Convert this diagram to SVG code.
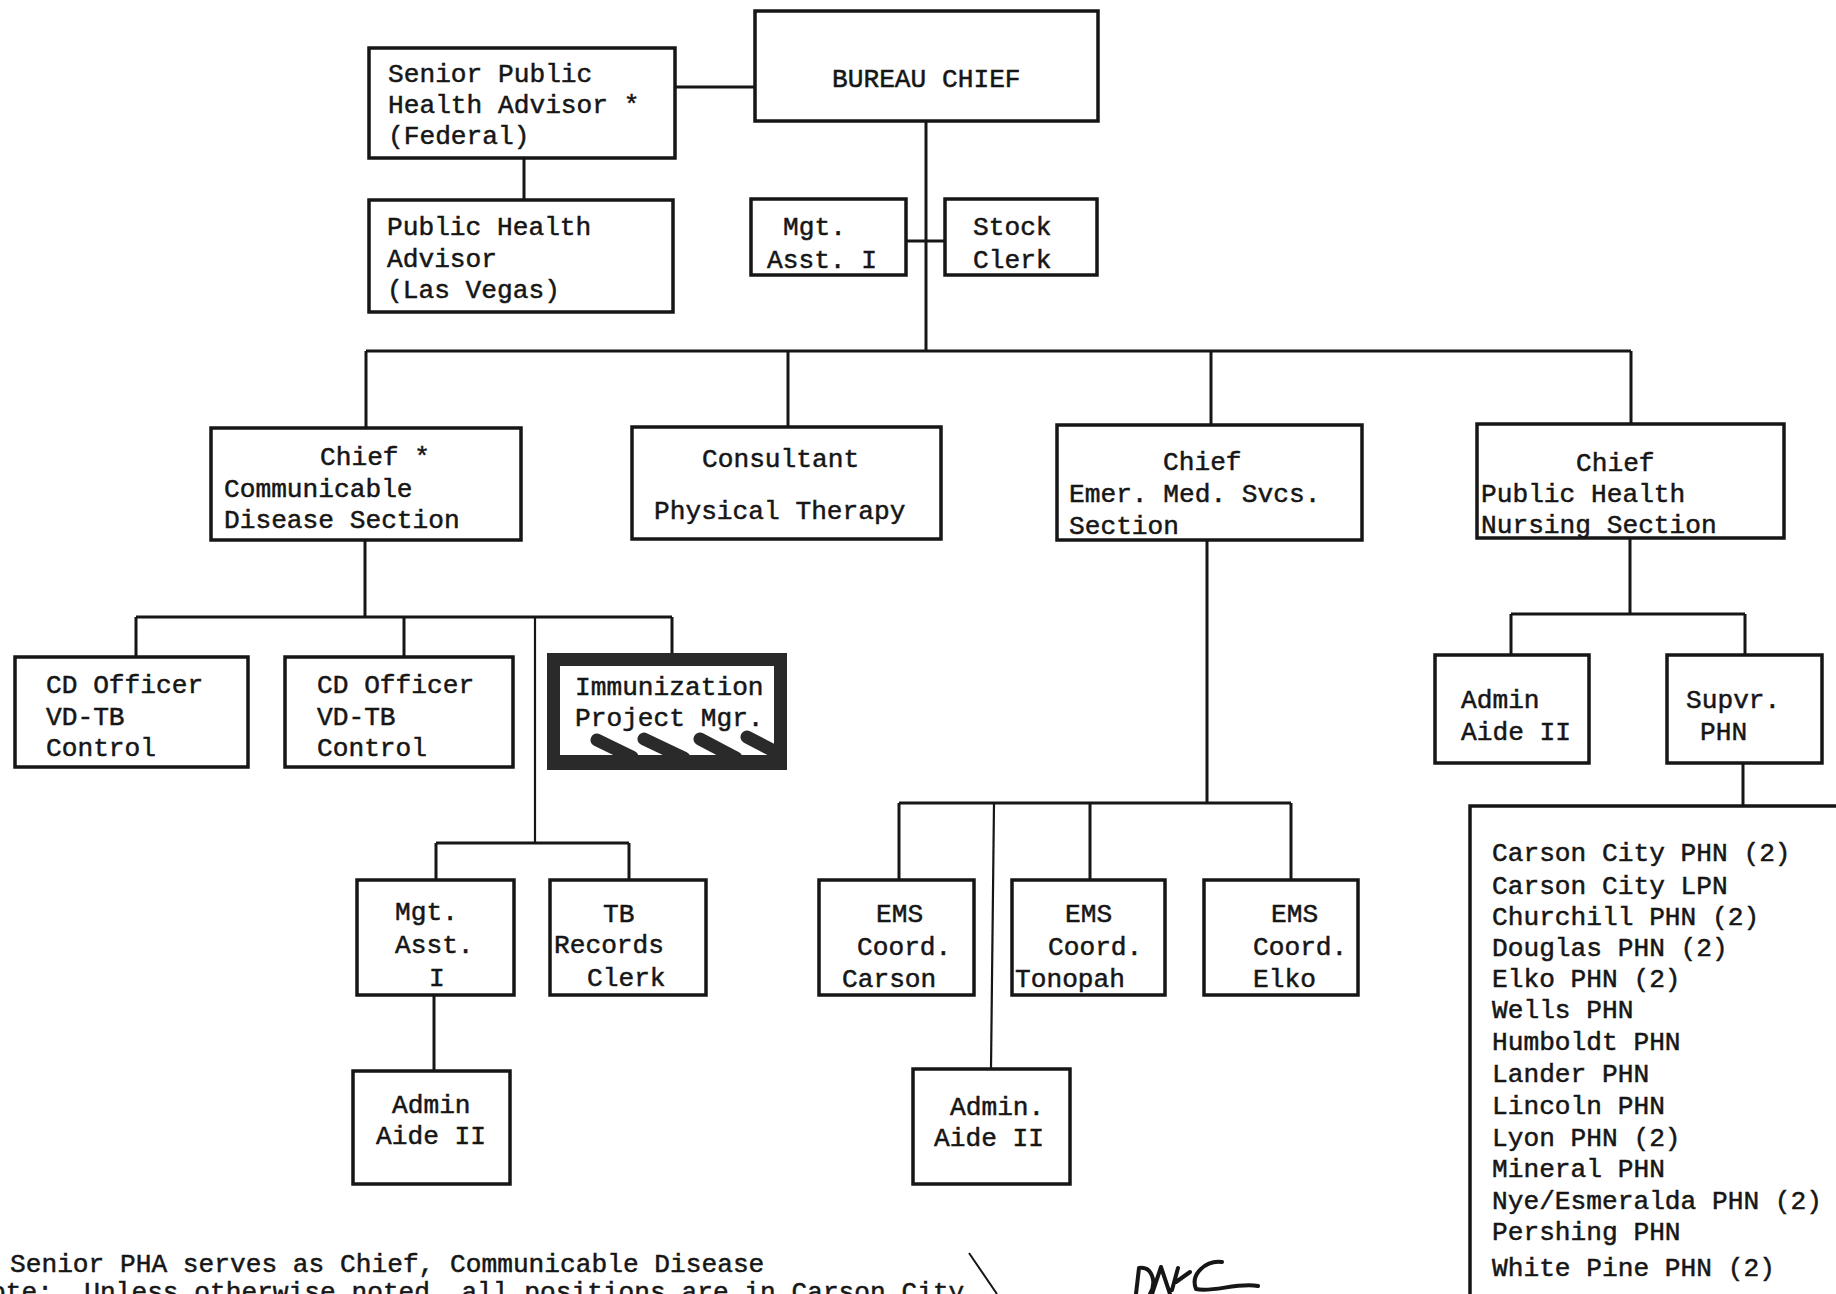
<svg xmlns="http://www.w3.org/2000/svg" width="1836" height="1294" viewBox="0 0 1836 1294">
<style>
.box{fill:#fff;stroke:#161616;stroke-width:3.5}
.t{font-family:"Liberation Mono","DejaVu Sans Mono",monospace;font-size:26.2px;fill:#161616;stroke:#161616;stroke-width:0.5}
.c{fill:none;stroke:#161616;stroke-width:3}
.thin{fill:none;stroke:#161616;stroke-width:2.2}
</style>
<rect x="0" y="0" width="1836" height="1294" fill="#fff"/>
<g id="connectors">
<path class="c" d="M675,87 H755"/>
<path class="c" d="M524,158 V200"/>
<path class="c" d="M926,121 V351"/>
<path class="c" d="M906,241 H945"/>
<path class="c" d="M366,351 H1631"/>
<path class="c" d="M366,351 V428 M788,351 V427 M1211,351 V425 M1631,351 V424"/>
<path class="c" d="M365,540 V617 M136,617 H672 M136,617 V657 M404,617 V657 M672,617 V653"/>
<path class="thin" d="M535,617 V843"/>
<path class="c" d="M436,843 H629 M436,843 V880 M629,843 V880"/>
<path class="c" d="M434,995 V1071"/>
<path class="c" d="M1207,540 V803 M899,803 H1291 M899,803 V880 M1090,803 V880 M1291,803 V880"/>
<path class="thin" d="M994,803 L991,1069"/>
<path class="c" d="M1630,538 V614 M1511,614 H1745 M1511,614 V655 M1745,614 V655 M1743,763 V806"/>
</g>
<g id="bureau-chief"><rect class="box" x="755" y="11" width="343" height="110"/><text class="t" x="832" y="87">BUREAU CHIEF</text></g>
<g id="senior-pha"><rect class="box" x="369" y="48" width="306" height="110"/><text class="t" x="388" y="82">Senior Public</text><text class="t" x="388" y="113">Health Advisor *</text><text class="t" x="388" y="144">(Federal)</text></g>
<g id="pha-las-vegas"><rect class="box" x="369" y="200" width="304" height="112"/><text class="t" x="387" y="235">Public Health</text><text class="t" x="387" y="267">Advisor</text><text class="t" x="387" y="298">(Las Vegas)</text></g>
<g id="mgt-asst-top"><rect class="box" x="751" y="199" width="155" height="76"/><text class="t" x="783" y="235">Mgt.</text><text class="t" x="767" y="268">Asst. I</text></g>
<g id="stock-clerk"><rect class="box" x="945" y="199" width="152" height="76"/><text class="t" x="973" y="235">Stock</text><text class="t" x="973" y="268">Clerk</text></g>
<g id="chief-cd"><rect class="box" x="211" y="428" width="310" height="112"/><text class="t" x="320" y="465">Chief *</text><text class="t" x="224" y="497">Communicable</text><text class="t" x="224" y="528">Disease Section</text></g>
<g id="consultant"><rect class="box" x="632" y="427" width="309" height="112"/><text class="t" x="702" y="467">Consultant</text><text class="t" x="654" y="519">Physical Therapy</text></g>
<g id="chief-ems"><rect class="box" x="1057" y="425" width="305" height="115"/><text class="t" x="1163" y="470">Chief</text><text class="t" x="1069" y="502">Emer. Med. Svcs.</text><text class="t" x="1069" y="534">Section</text></g>
<g id="chief-phn"><rect class="box" x="1477" y="424" width="307" height="114"/><text class="t" x="1576" y="471">Chief</text><text class="t" x="1481" y="502">Public Health</text><text class="t" x="1481" y="533">Nursing Section</text></g>
<g id="cd-officer-1"><rect class="box" x="15" y="657" width="233" height="110"/><text class="t" x="46" y="693">CD Officer</text><text class="t" x="46" y="725">VD-TB</text><text class="t" x="46" y="756">Control</text></g>
<g id="cd-officer-2"><rect class="box" x="285" y="657" width="228" height="110"/><text class="t" x="317" y="693">CD Officer</text><text class="t" x="317" y="725">VD-TB</text><text class="t" x="317" y="756">Control</text></g>
<g id="immunization">
<rect x="553.5" y="659.5" width="227" height="104" fill="#fff" stroke="#2a2a2a" stroke-width="13"/>
<rect x="547" y="755" width="240" height="15" fill="#2a2a2a"/>
<path d="M597,740 L632,757 M644,739 L684,758 M700,739 L736,758 M747,737 L772,750" fill="none" stroke="#2a2a2a" stroke-width="13" stroke-linecap="round"/>
<text class="t" x="575" y="695">Immunization</text><text class="t" x="575" y="726">Project Mgr.</text>
</g>
<g id="mgt-asst-cd"><rect class="box" x="357" y="880" width="157" height="115"/><text class="t" x="395" y="920">Mgt.</text><text class="t" x="395" y="953">Asst.</text><text class="t" x="429" y="986">I</text></g>
<g id="tb-records"><rect class="box" x="550" y="880" width="156" height="115"/><text class="t" x="603" y="922">TB</text><text class="t" x="554" y="953">Records</text><text class="t" x="587" y="986">Clerk</text></g>
<g id="admin-aide-cd"><rect class="box" x="353" y="1071" width="157" height="113"/><text class="t" x="392" y="1113">Admin</text><text class="t" x="376" y="1144">Aide II</text></g>
<g id="ems-carson"><rect class="box" x="819" y="880" width="155" height="115"/><text class="t" x="876" y="922">EMS</text><text class="t" x="857" y="955">Coord.</text><text class="t" x="842" y="987">Carson</text></g>
<g id="ems-tonopah"><rect class="box" x="1012" y="880" width="153" height="115"/><text class="t" x="1065" y="922">EMS</text><text class="t" x="1048" y="955">Coord.</text><text class="t" x="1015" y="987">Tonopah</text></g>
<g id="ems-elko"><rect class="box" x="1204" y="880" width="154" height="115"/><text class="t" x="1271" y="922">EMS</text><text class="t" x="1253" y="955">Coord.</text><text class="t" x="1253" y="987">Elko</text></g>
<g id="admin-aide-ems"><rect class="box" x="913" y="1069" width="157" height="115"/><text class="t" x="950" y="1115">Admin.</text><text class="t" x="934" y="1146">Aide II</text></g>
<g id="admin-aide-phn"><rect class="box" x="1435" y="655" width="154" height="108"/><text class="t" x="1461" y="708">Admin</text><text class="t" x="1461" y="740">Aide II</text></g>
<g id="supvr-phn"><rect class="box" x="1667" y="655" width="155" height="108"/><text class="t" x="1686" y="708">Supvr.</text><text class="t" x="1700" y="740">PHN</text></g>
<g id="phn-list">
<path d="M1470,1300 V806 H1840" fill="none" stroke="#161616" stroke-width="3.5"/>
<text class="t" x="1492" y="861">Carson City PHN (2)</text>
<text class="t" x="1492" y="894">Carson City LPN</text>
<text class="t" x="1492" y="925">Churchill PHN (2)</text>
<text class="t" x="1492" y="956">Douglas PHN (2)</text>
<text class="t" x="1492" y="987">Elko PHN (2)</text>
<text class="t" x="1492" y="1018">Wells PHN</text>
<text class="t" x="1492" y="1050">Humboldt PHN</text>
<text class="t" x="1492" y="1082">Lander PHN</text>
<text class="t" x="1492" y="1114">Lincoln PHN</text>
<text class="t" x="1492" y="1146">Lyon PHN (2)</text>
<text class="t" x="1492" y="1177">Mineral PHN</text>
<text class="t" x="1492" y="1209">Nye/Esmeralda PHN (2)</text>
<text class="t" x="1492" y="1240">Pershing PHN</text>
<text class="t" x="1492" y="1276">White Pine PHN (2)</text>
</g>
<g id="footnote">
<text class="t" x="10" y="1272">Senior PHA serves as Chief, Communicable Disease</text>
<text class="t" x="-10" y="1300" xml:space="preserve">ote:  Unless otherwise noted, all positions are in Carson City.</text>
<path d="M969,1253 L997,1294" fill="none" stroke="#161616" stroke-width="2"/>
<path d="M1136,1294 L1139,1268 C1152,1266 1157,1282 1150,1294 M1152,1294 L1161,1267 L1170,1294 M1172,1290 L1178,1268 M1176,1282 L1190,1272 M1222,1262 C1206,1260 1190,1274 1196,1289 C1212,1293 1238,1282 1258,1286" fill="none" stroke="#161616" stroke-width="4" stroke-linecap="round" stroke-linejoin="round"/>
</g>
</svg>
